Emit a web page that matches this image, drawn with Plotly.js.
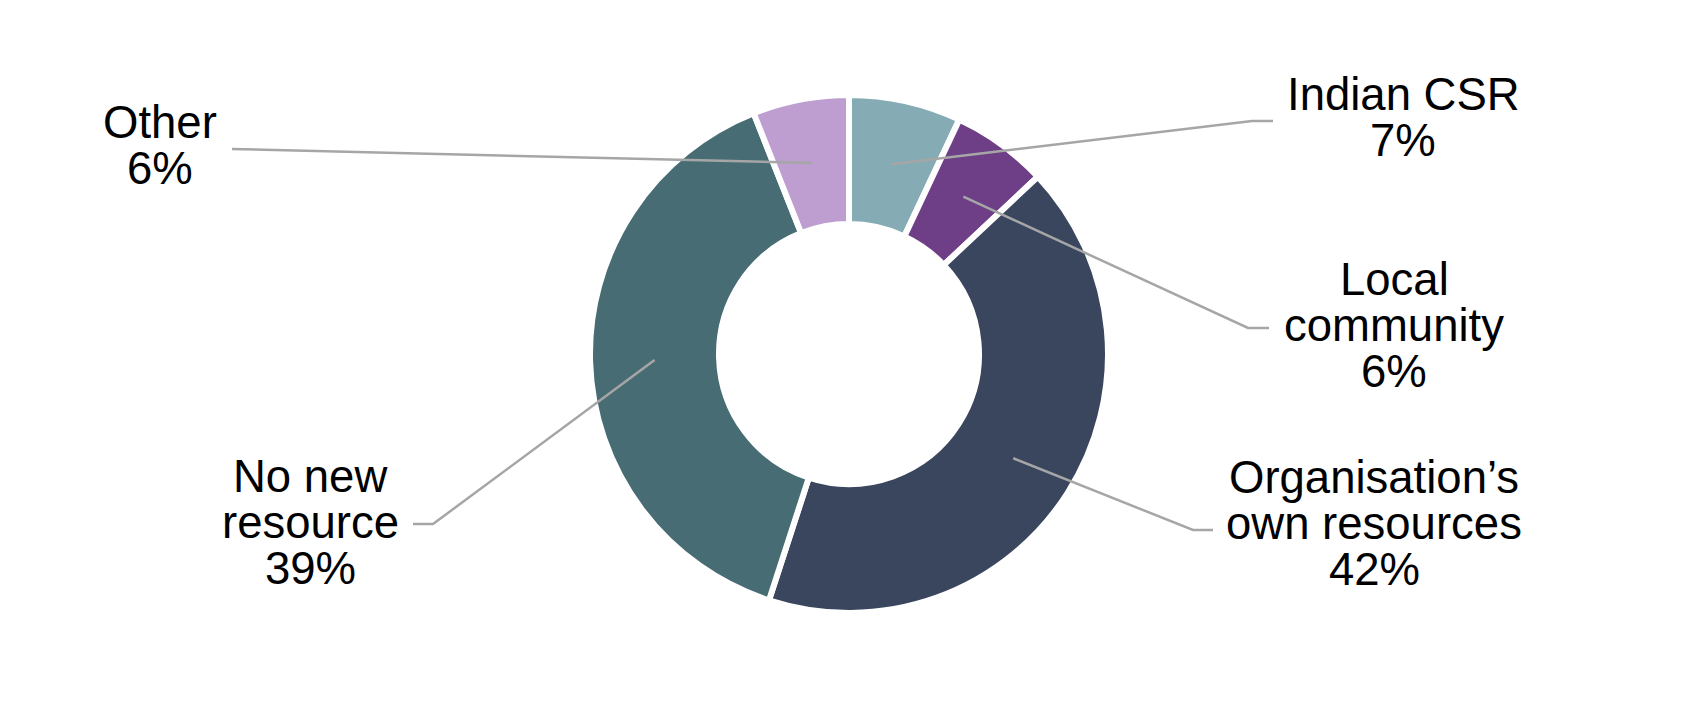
<!DOCTYPE html>
<html>
<head>
<meta charset="utf-8">
<script src="https://cdn.plot.ly/plotly-3.0.1.min.js"></script>
<style>
  html, body { margin: 0; padding: 0; background: #ffffff; }
  #chart { width: 1705px; height: 715px; }
</style>
</head>
<body>
<div id="chart"></div>
<script>
// Sources of new resources (share of respondents, %)
const categories = ['Indian CSR', 'Local\ncommunity', 'Organisation\u2019s\nown resources', 'No new\nresource', 'Other'];
const values = [7, 6, 42, 39, 6];
const colors = ['#85ABB5', '#6E3F87', '#3A465E', '#476C74', '#BE9DD1'];

// Page geometry (pixels)
const W = 1705, H = 715;
const CX = 849, CY = 354;          // donut centre
const R_OUT = 256, R_IN = 133;     // visible ring radii
const GAP = 6;                     // white separator width
const R = R_OUT + GAP / 2;         // radius handed to plotly
const HOLE = (R_IN - GAP / 2) / R;

// Label blocks: centre x, first baseline, and the elbow/end of each leader line
const labelPos = [
  { x: 1403, base: 110, elbow: [1252, 121], end: [1273, 121] },
  { x: 1394, base: 295, elbow: [1248, 328], end: [1269, 328] },
  { x: 1374, base: 493, elbow: [1193, 530], end: [1213, 530] },
  { x: 310,  base: 492, elbow: [433, 524],  end: [413, 524] },
  { x: 160,  base: 138, elbow: [232, 149],  end: [232, 149] }
];
const FONT_SIZE = 45.5;
const LINE_GAP = 46;

const px = x => x / W;
const py = y => 1 - y / H;

const total = values.reduce((a, b) => a + b, 0);
const annotations = [];
const shapes = [];
let cum = 0;
values.forEach((v, i) => {
  // leader starts at the middle of the ring, on the slice's mid angle
  const mid = (cum + v / 2) / total * 2 * Math.PI;
  cum += v;
  const rMid = (R_OUT + R_IN) / 2;
  const sx = CX + rMid * Math.sin(mid);
  const sy = CY - rMid * Math.cos(mid);
  const p = labelPos[i];
  shapes.push({
    type: 'path', xref: 'paper', yref: 'paper',
    path: `M${px(sx)},${py(sy)} L${px(p.elbow[0])},${py(p.elbow[1])} L${px(p.end[0])},${py(p.end[1])}`,
    line: { color: '#A6A6A6', width: 2.5 }
  });
  const lines = categories[i].split('\n').concat([v + '%']);
  lines.forEach((t, k) => {
    const baseline = p.base + k * LINE_GAP;
    annotations.push({
      xref: 'paper', yref: 'paper',
      x: px(p.x), y: py(baseline - 0.3465 * FONT_SIZE),
      xanchor: 'center', yanchor: 'middle',
      text: t, showarrow: false,
      font: { family: 'Liberation Sans, Arial, sans-serif', size: FONT_SIZE, color: '#000000' }
    });
  });
});

const trace = {
  type: 'pie',
  values: values,
  labels: categories.map(c => c.replace('\n', ' ')),
  sort: false,
  direction: 'clockwise',
  rotation: 0,
  hole: HOLE,
  marker: { colors: colors, line: { color: '#ffffff', width: GAP } },
  textinfo: 'none',
  hoverinfo: 'label+percent',
  showlegend: false,
  domain: {
    x: [px(CX - R), px(CX + R)],
    y: [py(CY + R), py(CY - R)]
  }
};

const layout = {
  width: W, height: H,
  margin: { l: 0, r: 0, t: 0, b: 0 },
  paper_bgcolor: '#ffffff',
  plot_bgcolor: '#ffffff',
  showlegend: false,
  annotations: annotations,
  shapes: shapes
};

Plotly.newPlot('chart', [trace], layout, { displayModeBar: false, staticPlot: true });
</script>
</body>
</html>
